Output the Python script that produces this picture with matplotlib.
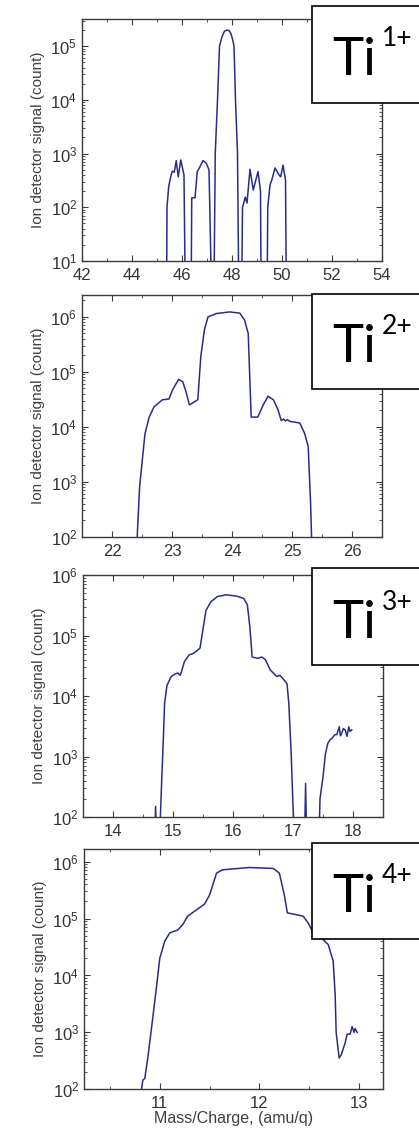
import matplotlib
matplotlib.use("Agg")
import matplotlib.pyplot as plt
from matplotlib.patches import Rectangle
from matplotlib.ticker import MultipleLocator, LogLocator

plt.rcParams['font.family'] = ['Liberation Sans', 'DejaVu Sans']
plt.rcParams['mathtext.fontset'] = 'custom'
plt.rcParams['mathtext.rm'] = 'Liberation Sans'
plt.rcParams['mathtext.it'] = 'Liberation Sans:italic'
plt.rcParams['mathtext.bf'] = 'Liberation Sans:bold'

# Ti 1+ : values of 1 mean "below the axis" (signal drops out)
mz1 = [45.38, 45.40, 45.47, 45.55, 45.61, 45.69, 45.77, 45.85, 45.95, 46.08, 46.14,
       46.36, 46.39, 46.52, 46.61, 46.72, 46.84, 46.97, 47.08, 47.20,
       47.27, 47.33, 47.42, 47.50, 47.60, 47.70, 47.80, 47.88, 47.96, 48.03, 48.08, 48.14, 48.22, 48.28,
       48.38, 48.42, 48.47, 48.53, 48.60, 48.72, 48.85, 49.04, 49.14, 49.17,
       49.40, 49.43, 49.52, 49.59, 49.72, 49.88, 49.95, 50.04, 50.14, 50.18]
sig1 = [1, 100, 250, 370, 470, 450, 740, 370, 760, 400, 1,
        1, 150, 150, 460, 570, 740, 660, 500, 1,
        1, 1000, 1e4, 1e5, 1.5e5, 1.9e5, 2e5, 1.95e5, 1.7e5, 1.3e5, 1e5, 1e4, 1e3, 1,
        1, 100, 120, 155, 120, 510, 210, 460, 200, 1,
        1, 100, 260, 320, 540, 400, 370, 610, 320, 1]

# Ti 2+
mz2 = [22.40, 22.42, 22.46, 22.51, 22.55, 22.62, 22.70, 22.84, 22.95, 23.01, 23.11, 23.18,
       23.24, 23.29, 23.43, 23.48, 23.54, 23.60, 23.74, 23.96, 24.13, 24.21, 24.27, 24.32,
       24.43, 24.52, 24.60, 24.69, 24.77, 24.82, 24.86, 24.89, 24.92, 24.96, 25.13, 25.21,
       25.27, 25.31, 25.34]
sig2 = [30, 100, 800, 2800, 7500, 15000, 23000, 31000, 32000, 47000, 73000, 66000,
        41000, 25000, 31000, 1.9e5, 5.8e5, 1.0e6, 1.15e6, 1.23e6, 1.17e6, 8.7e5, 5.0e5, 15000,
        15000, 25000, 36000, 31000, 20000, 13000, 13800, 12800, 13500, 12600, 11700, 7600,
        4400, 400, 30]

# Ti 3+
mz3 = [14.69, 14.71, 14.73, 14.77, 14.81, 14.84, 14.86, 14.90, 14.97, 15.03, 15.08, 15.12,
       15.14, 15.19, 15.27, 15.33, 15.38, 15.45, 15.49, 15.55, 15.63, 15.74, 15.88, 16.05,
       16.18, 16.24, 16.28, 16.32, 16.41, 16.48, 16.54, 16.62, 16.73, 16.78, 16.82, 16.90,
       16.93, 16.97, 17.00, 17.03, 17.19, 17.21, 17.23, 17.43, 17.45, 17.47, 17.50, 17.54,
       17.58, 17.62, 17.65, 17.70, 17.73, 17.77, 17.79, 17.81, 17.84, 17.87, 17.90, 17.93,
       17.95, 17.98]
sig3 = [30, 150, 30, 30, 360, 2100, 7600, 15000, 21000, 23000, 24000, 22000,
        25000, 37000, 48000, 50000, 54000, 62000, 1.1e5, 2.6e5, 3.6e5, 4.4e5, 4.7e5, 4.5e5,
        4.1e5, 3.2e5, 1.4e5, 44000, 42000, 44000, 40000, 27000, 21000, 22000, 20000, 16000,
        7600, 1100, 150, 30, 30, 360, 30, 30, 200, 280, 460, 1100,
        1650, 1900, 2000, 2300, 2300, 3100, 2200, 2400, 2900, 2750, 2150, 3100,
        2600, 2750]

# Ti 4+
mz4 = [10.80, 10.83, 10.85, 10.88, 10.93, 10.97, 11.00, 11.05, 11.10, 11.18, 11.23, 11.28,
       11.35, 11.45, 11.50, 11.57, 11.63, 11.90, 12.14, 12.20, 12.25, 12.28, 12.37, 12.44,
       12.49, 12.54, 12.62, 12.69, 12.74, 12.76, 12.77, 12.80, 12.82, 12.86, 12.88, 12.91,
       12.93, 12.95, 12.96, 12.98]
sig4 = [60, 145, 155, 355, 1800, 6900, 20000, 40000, 56000, 63000, 78000, 1.1e5,
        1.35e5, 1.8e5, 2.6e5, 6.3e5, 7.2e5, 7.9e5, 7.6e5, 6.3e5, 2.6e5, 1.26e5, 1.17e5, 1.1e5,
        83000, 56000, 46000, 35000, 18000, 4600, 1000, 355, 400, 650, 930, 930,
        1260, 1000, 1170, 1000]

labels = ['1+', '2+', '3+', '4+']
xlims = [(42, 54), (21.5, 26.5), (13.5, 18.5), (10.24, 13.24)]
ylims = [(10, 3.2e5), (100, 2.5e6), (100, 1e6), (100, 1.67e6)]
xmajor = [2, 1, 1, 1]
xminor = [1, 0.5, 0.5, 0.5]

W, H = 419, 1140
# axes boxes in pixels: left, top, right, bottom
axbox = [(82, 19, 382, 261), (82, 295, 382, 536.7), (83, 575, 383, 817), (84, 849, 383, 1089.3)]
# label boxes: top, bottom, Ti baseline
labbox = [(6, 102.7, 75), (294.3, 389, 362.3), (568.3, 665, 638.3), (843, 939, 911.7)]

fig = plt.figure(figsize=(W / 100, H / 100), dpi=100)
line_col = '#2b2b8c'
edge_col = '#3a3a3a'
box_font = ['Lato', 'DejaVu Sans']

data = [(mz1, sig1), (mz2, sig2), (mz3, sig3), (mz4, sig4)]
for i, (mz, sig) in enumerate(data):
    l, t, r, b = axbox[i]
    ax = fig.add_axes([l / W, 1 - b / H, (r - l) / W, (b - t) / H])
    ax.plot(mz, sig, color=line_col, lw=1.1)
    ax.set_yscale('log')
    ax.set_xlim(*xlims[i])
    ax.set_ylim(*ylims[i])
    ax.xaxis.set_major_locator(MultipleLocator(xmajor[i]))
    ax.xaxis.set_minor_locator(MultipleLocator(xminor[i]))
    ax.yaxis.set_minor_locator(LogLocator(subs=range(2, 10)))
    ax.tick_params(which='both', direction='in', top=True, right=True,
                   colors=edge_col, labelcolor='#333333')
    ax.tick_params(which='major', length=4, labelsize=12)
    ax.tick_params(axis='x', which='major', pad=5)
    ax.tick_params(which='minor', length=2)
    for s in ax.spines.values():
        s.set_color(edge_col)
        s.set_linewidth(1.0)
    ax.set_ylabel('Ion detector signal (count)', fontsize=11, color='#404040', labelpad=4)
    if i == 3:
        ax.set_xlabel('Mass/Charge, (amu/q)', fontsize=11.5, color='#404040', labelpad=0)

    top, bot, base = labbox[i]
    rect = Rectangle((311.7 / W, 1 - bot / H), 0.5, (bot - top) / H,
                     transform=fig.transFigure, facecolor='white',
                     edgecolor='black', lw=1.2, zorder=5)
    fig.add_artist(rect)
    fig.text(332 / W, 1 - base / H, 'Ti', fontsize=38, family=box_font,
             va='baseline', ha='left', color='black', zorder=6)
    fig.text(382 / W, 1 - (base - 28.5) / H, labels[i], fontsize=19,
             family=box_font, va='baseline', ha='left', color='black', zorder=6)

fig.savefig('out.png', dpi=100)
